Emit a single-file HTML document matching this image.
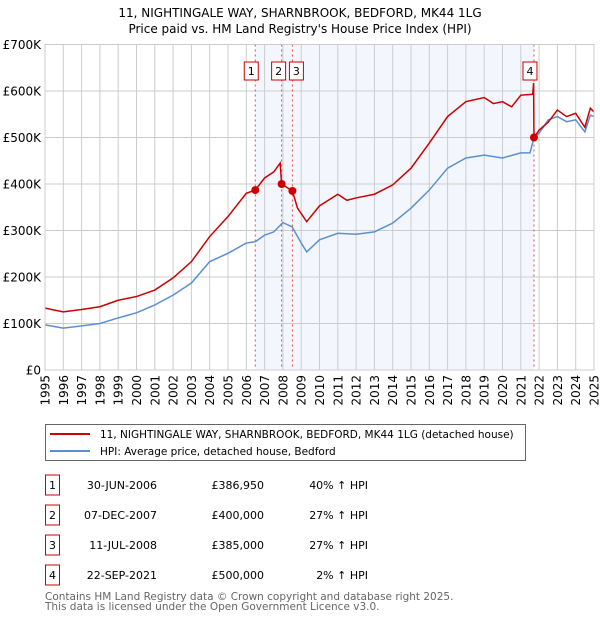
<!DOCTYPE html>
<html><head><meta charset="utf-8"><style>
body{margin:0;background:#fff;font-family:"DejaVu Sans","Liberation Sans",sans-serif;}
svg text{font-family:"DejaVu Sans","Liberation Sans",sans-serif;}
</style></head><body>
<svg id="c" width="600" height="620" xmlns="http://www.w3.org/2000/svg">
<text x="300" y="17" text-anchor="middle" font-size="12">11, NIGHTINGALE WAY, SHARNBROOK, BEDFORD, MK44 1LG</text>
<text x="300" y="33" text-anchor="middle" font-size="12">Price paid vs. HM Land Registry's House Price Index (HPI)</text>
<g id="plot"></g>
<g>
<rect x="45.5" y="424.5" width="480" height="36" fill="#fff" stroke="#666"/>
<line x1="50" y1="434" x2="90" y2="434" stroke="#cc0000" stroke-width="2"/>
<text x="100" y="438" font-size="10.5">11, NIGHTINGALE WAY, SHARNBROOK, BEDFORD, MK44 1LG (detached house)</text>
<line x1="50" y1="451" x2="90" y2="451" stroke="#5b8fd4" stroke-width="2"/>
<text x="100" y="455" font-size="10.5">HPI: Average price, detached house, Bedford</text>
</g>
<g id="table"></g>
<text x="45" y="600" font-size="10.5" fill="#666">Contains HM Land Registry data © Crown copyright and database right 2025.</text>
<text x="45" y="610" font-size="10.5" fill="#666">This data is licensed under the Open Government Licence v3.0.</text>
</svg>
<script>
const hpiYears=[1995,1996,1997,1998,1999,2000,2001,2002,2003,2004,2005,2006,2006.5,2007,2007.5,2008,2008.5,2009,2009.3,2010,2011,2012,2013,2014,2015,2016,2017,2018,2019,2020,2021,2021.5,2021.72,2022,2022.5,2023,2023.5,2024,2024.5,2024.8,2025];
const hpiValues=[97000,90000,95000,100000,112000,123000,140000,161000,187000,233000,251000,273000,276000,290000,297000,317000,308000,273000,254000,280000,294000,292000,297000,316000,348000,387000,434000,456000,462000,456000,467000,467000,499000,509000,538000,545000,534000,538000,512000,548000,545000];
const redYears=[1995,1996,1997,1998,1999,2000,2001,2002,2003,2004,2005,2006,2006.49,2007,2007.5,2007.85,2007.93,2008.52,2008.8,2009.3,2010,2011,2011.5,2012,2013,2014,2015,2016,2017,2018,2019,2019.5,2020,2020.5,2021,2021.65,2021.7,2021.72,2022,2022.5,2023,2023.5,2024,2024.5,2024.8,2025];
const redValues=[133000,125000,130000,136000,150000,158000,172000,198000,233000,287000,330000,380000,386950,413000,426000,445000,400000,385000,348000,319000,353000,378000,365000,370000,378000,398000,434000,488000,545000,577000,586000,573000,577000,566000,591000,593000,617000,500000,516000,533000,559000,545000,552000,522000,563000,555000];
const saleLabels=["1","2","3","4"];
const saleDates=[2006.49,2007.93,2008.52,2021.72];
const salePrices=[386950,400000,385000,500000];
const saleDateText=["30-JUN-2006","07-DEC-2007","11-JUL-2008","22-SEP-2021"];
const salePriceText=["£386,950","£400,000","£385,000","£500,000"];
const salePctText=["40% \u2191 HPI","27% \u2191 HPI","27% \u2191 HPI","2% \u2191 HPI"];
const yTicks=[0,100000,200000,300000,400000,500000,600000,700000];
const yTickLabels=["£0","£100K","£200K","£300K","£400K","£500K","£600K","£700K"];
const xTicks=[1995,1996,1997,1998,1999,2000,2001,2002,2003,2004,2005,2006,2007,2008,2009,2010,2011,2012,2013,2014,2015,2016,2017,2018,2019,2020,2021,2022,2023,2024,2025];

const L=45,R=594,T=44.5,B=370;
const x=v=>L+(v-1995)/30*(R-L);
const y=v=>B-v/700000*(B-T);
const NS="http://www.w3.org/2000/svg";
const plot=document.getElementById('plot');
function mk(tag,attrs,parent){const e=document.createElementNS(NS,tag);for(const k in attrs)e.setAttribute(k,attrs[k]);(parent||plot).appendChild(e);return e;}

let sh=mk('rect',{x:x(saleDates[0]),y:T,width:x(saleDates[3])-x(saleDates[0]),height:B-T,fill:'#eef3fc',opacity:0.7});


xTicks.forEach(t=>{
  let g=mk('line',{x1:x(t),x2:x(t),y1:T,y2:B,stroke:'#ccc','stroke-width':1});
  
  
  let tx=mk('text',{x:0,y:0,'font-size':12,'text-anchor':'end',transform:`translate(${x(t)+4.5},375) rotate(-90)`});
  tx.textContent=t;
  
  
});
yTicks.forEach((t,i)=>{
  let g=mk('line',{x1:L,x2:R,y1:y(t),y2:y(t),stroke:'#ccc','stroke-width':1});
  
  
  let tx=mk('text',{x:41,y:y(t)+4.5,'font-size':12,'text-anchor':'end'});
  tx.textContent=yTickLabels[i];
  
  
});
saleDates.forEach((d,i)=>{
  let v=mk('line',{x1:x(d),x2:x(d),y1:T,y2:B,stroke:'#e05050','stroke-width':1,'stroke-dasharray':'2,3'});
  
  
});
let hp=mk('polyline',{points:hpiYears.map((d,i)=>x(d)+','+y(hpiValues[i])).join(' '),fill:'none',stroke:'#5b8fd4','stroke-width':1.5});


let rp=mk('polyline',{points:redYears.map((d,i)=>x(d)+','+y(redValues[i])).join(' '),fill:'none',stroke:'#cc0000','stroke-width':1.5});


const boxOff=[-4,-3,4,-4];
saleDates.forEach((d,i)=>{
  let p=mk('circle',{cx:x(d),cy:y(salePrices[i]),r:4,fill:'#cc0000'});
  
  
  let bx=x(d)+boxOff[i];
  let r=mk('rect',{x:bx-7,y:62,width:14,height:18,fill:'#fff',stroke:'#cc0000'});
  
  
  let t=mk('text',{x:bx,y:75,'font-size':11,'text-anchor':'middle'});
  t.textContent=saleLabels[i];
  
  
});
let fr=mk('rect',{x:L,y:T,width:R-L,height:B-T,fill:'none',stroke:'#ccc'});



const tb=document.getElementById('table');
saleLabels.forEach((s,i)=>{
  const cy=485+i*30;
  let r=mk('rect',{x:45.5,y:cy-10,width:14,height:20,fill:'#fff',stroke:'#cc0000'},tb);
  
  
  let t=mk('text',{x:52.5,y:cy+4,'font-size':11,'text-anchor':'middle'},tb);t.textContent=s;
  
  
  let a=mk('text',{x:157,y:cy+4,'font-size':11,'text-anchor':'end'},tb);a.textContent=saleDateText[i];
  
  
  let b=mk('text',{x:264,y:cy+4,'font-size':11,'text-anchor':'end'},tb);b.textContent=salePriceText[i];
  
  
  let c=mk('text',{x:368,y:cy+4,'font-size':11,'text-anchor':'end'},tb);c.textContent=salePctText[i];
  
  
});
</script>
</body></html>
